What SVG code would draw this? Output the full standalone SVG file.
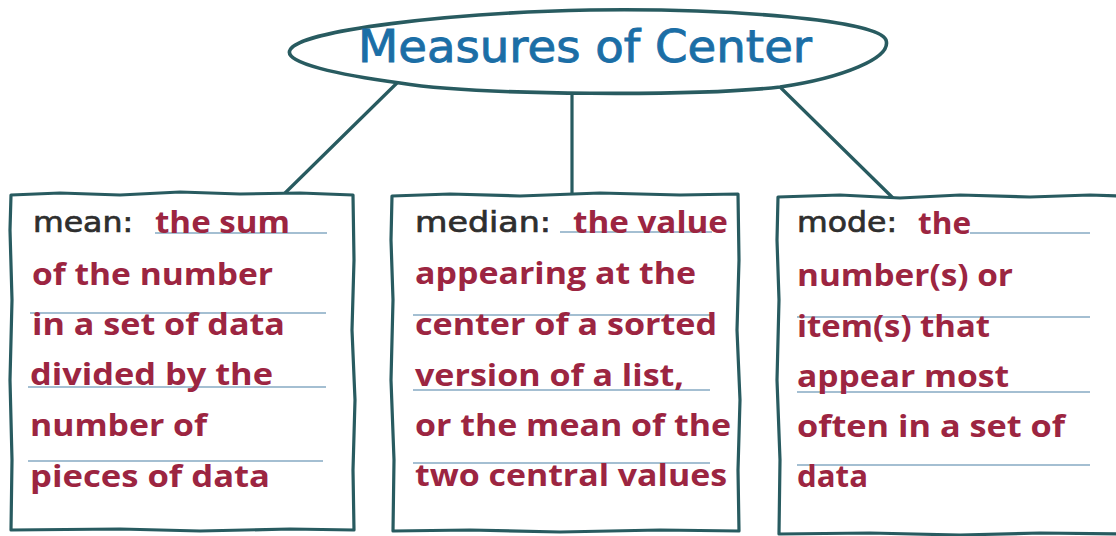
<svg xmlns="http://www.w3.org/2000/svg" width="1116" height="536" viewBox="0 0 1116 536">
<defs>
<style>
.edge{fill:none;stroke:#285b60;stroke-width:3.2;stroke-linecap:round;stroke-linejoin:round}
.box{fill:#ffffff;stroke:#285b60;stroke-width:3.2;stroke-linejoin:round}
.rule{stroke:#86aac3;stroke-width:1.6}
.def{font-family:"Open Sans","Liberation Sans",sans-serif;font-weight:bold;font-size:31px;fill:#9c2541}
.lbl{font-family:"DejaVu Sans","Liberation Sans",sans-serif;font-size:28px;fill:#2e2e2e;stroke:#2e2e2e;stroke-width:0.7}
.title{font-family:"DejaVu Sans","Liberation Sans",sans-serif;font-size:45px;fill:#1b6ea6;stroke:#1b6ea6;stroke-width:0.9}
</style>
</defs>
<rect width="1116" height="536" fill="#ffffff"/>
<g id="connectors">
<path class="edge" d="M398,82 L283,195"/>
<path class="edge" d="M572,94 L572,195"/>
<path class="edge" d="M781,88 L893,198"/>
</g>
<g id="title-node">
<path class="box" style="stroke-width:3.6" d="M290,50 C300,30 450,13 590,10 C730,8 878,20 886,40 C892,58 842,78 780,87 C700,96 480,96 400,83 C340,75 283,63 290,50 Z"/>
<text class="title" x="358" y="62" textLength="454" lengthAdjust="spacingAndGlyphs">Measures of Center</text>
</g>
<g id="mean">
<path class="box" d="M11,195 L60,193 L120,195 L180,192 L240,194 L300,193 L353,195 L354,260 L352,330 L355,400 L353,470 L354,530 L290,529 L200,531 L120,529 L11,530 L12,460 L10,380 L12,300 L10,230 Z"/>
<line class="rule" x1="155" y1="233" x2="327" y2="233"/>
<line class="rule" x1="30" y1="313" x2="326" y2="313"/>
<line class="rule" x1="28" y1="387" x2="326" y2="387"/>
<line class="rule" x1="28" y1="461" x2="323" y2="461"/>
<text class="lbl" x="33" y="232" textLength="100" lengthAdjust="spacingAndGlyphs">mean:</text>
<text class="def" x="155" y="233" textLength="135" lengthAdjust="spacingAndGlyphs">the sum</text>
<text class="def" x="32" y="285" textLength="241" lengthAdjust="spacingAndGlyphs">of the number</text>
<text class="def" x="32" y="335" textLength="253" lengthAdjust="spacingAndGlyphs">in a set of data</text>
<text class="def" x="30" y="385" textLength="243" lengthAdjust="spacingAndGlyphs">divided by the</text>
<text class="def" x="30" y="436" textLength="177" lengthAdjust="spacingAndGlyphs">number of</text>
<text class="def" x="30" y="487" textLength="240" lengthAdjust="spacingAndGlyphs">pieces of data</text>
</g>
<g id="median">
<path class="box" d="M392,196 L450,194 L520,196 L600,193 L680,195 L738,194 L739,260 L737,330 L740,400 L738,470 L739,531 L660,530 L560,532 L470,530 L393,531 L394,460 L391,380 L393,300 L391,240 Z"/>
<line class="rule" x1="560" y1="232" x2="712" y2="232"/>
<line class="rule" x1="413" y1="315" x2="710" y2="315"/>
<line class="rule" x1="413" y1="390" x2="710" y2="390"/>
<line class="rule" x1="413" y1="463" x2="710" y2="463"/>
<text class="lbl" x="415" y="232" textLength="136" lengthAdjust="spacingAndGlyphs">median:</text>
<text class="def" x="573" y="233" textLength="155" lengthAdjust="spacingAndGlyphs">the value</text>
<text class="def" x="415" y="284" textLength="281" lengthAdjust="spacingAndGlyphs">appearing at the</text>
<text class="def" x="415" y="335" textLength="302" lengthAdjust="spacingAndGlyphs">center of a sorted</text>
<text class="def" x="415" y="386" textLength="269" lengthAdjust="spacingAndGlyphs">version of a list,</text>
<text class="def" x="415" y="436" textLength="316" lengthAdjust="spacingAndGlyphs">or the mean of the</text>
<text class="def" x="415" y="486" textLength="312" lengthAdjust="spacingAndGlyphs">two central values</text>
</g>
<g id="mode">
<path class="box" d="M778,197 L840,195 L900,198 L960,195 L1030,197 L1090,195 L1122,196 L1122,534 L1040,533 L960,535 L870,533 L779,534 L780,460 L777,380 L779,300 L777,240 Z"/>
<line class="rule" x1="970" y1="233" x2="1090" y2="233"/>
<line class="rule" x1="797" y1="317" x2="1090" y2="317"/>
<line class="rule" x1="797" y1="392" x2="1090" y2="392"/>
<line class="rule" x1="797" y1="465" x2="1090" y2="465"/>
<text class="lbl" x="797" y="232" textLength="100" lengthAdjust="spacingAndGlyphs">mode:</text>
<text class="def" x="918" y="234" textLength="53" lengthAdjust="spacingAndGlyphs">the</text>
<text class="def" x="797" y="286" textLength="216" lengthAdjust="spacingAndGlyphs">number(s) or</text>
<text class="def" x="797" y="337" textLength="193" lengthAdjust="spacingAndGlyphs">item(s) that</text>
<text class="def" x="797" y="387" textLength="212" lengthAdjust="spacingAndGlyphs">appear most</text>
<text class="def" x="797" y="437" textLength="268" lengthAdjust="spacingAndGlyphs">often in a set of</text>
<text class="def" x="797" y="487" textLength="71" lengthAdjust="spacingAndGlyphs">data</text>
</g>
</svg>
